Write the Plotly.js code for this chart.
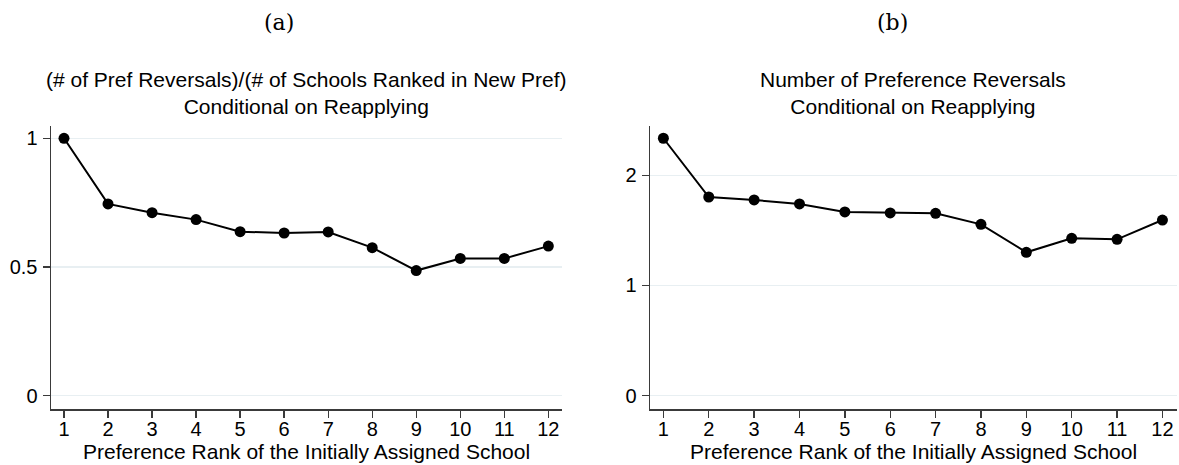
<!DOCTYPE html>
<html>
<head>
<meta charset="utf-8">
<script src="https://cdn.plot.ly/plotly-3.0.1.min.js"></script>
<style>html,body{margin:0;padding:0;background:#fff;}#chart{width:1179px;height:465px;}</style>
</head>
<body>
<div id="chart"></div>
<script>
// Data
const ranks = [1, 2, 3, 4, 5, 6, 7, 8, 9, 10, 11, 12];
const reversalShare = [1.0, 0.745, 0.711, 0.684, 0.637, 0.632, 0.636, 0.575, 0.486, 0.533, 0.533, 0.581];
const reversalCount = [2.336, 1.803, 1.776, 1.740, 1.667, 1.658, 1.655, 1.555, 1.301, 1.428, 1.419, 1.594];
const yTicksA = [0, 0.5, 1];
const yTickTextA = ["0", "0.5", "1"];
const yTicksB = [0, 1, 2];
const yTickTextB = ["0", "1", "2"];
const titleA = "(# of Pref Reversals)/(# of Schools Ranked in New Pref)<br>Conditional on Reapplying";
const titleB = "Number of Preference Reversals<br>Conditional on Reapplying";
const xTitle = "Preference Rank of the Initially Assigned School";
const panelLabels = ["(a)", "(b)"];

const W = 1179, H = 465;
const font = "Liberation Sans, Arial, Helvetica, sans-serif";
const lineStyle = {color: "#000", width: 2};
const markerStyle = {color: "#000", size: 11};

const traces = [
  {x: ranks, y: reversalShare, type: "scatter", mode: "lines+markers", line: lineStyle, marker: markerStyle, xaxis: "x", yaxis: "y", hoverinfo: "x+y"},
  {x: ranks, y: reversalCount, type: "scatter", mode: "lines+markers", line: lineStyle, marker: markerStyle, xaxis: "x2", yaxis: "y2", hoverinfo: "x+y"}
];

const axisCommon = {
  showline: true, linecolor: "#3a3a3a", linewidth: 1.5,
  ticks: "outside", ticklen: 7, tickwidth: 1.3, tickcolor: "#3a3a3a",
  tickfont: {family: font, size: 20, color: "#000"},
  zeroline: false, fixedrange: true
};
const xCommon = Object.assign({}, axisCommon, {
  range: [0.705, 12.31], tickmode: "array", tickvals: ranks, ticktext: ranks.map(String),
  showgrid: false, ticklabelstandoff: -6
});
const yDom = [(H - 409) / H, (H - 125.7) / H];

const layout = {
  width: W, height: H,
  margin: {l: 0, r: 0, t: 0, b: 0},
  paper_bgcolor: "#fff", plot_bgcolor: "#fff",
  showlegend: false,
  font: {family: font, size: 20, color: "#000"},
  xaxis: Object.assign({}, xCommon, {domain: [51 / W, 562 / W], anchor: "y"}),
  xaxis2: Object.assign({}, xCommon, {domain: [650 / W, 1176.5 / W], anchor: "y2"}),
  yaxis: Object.assign({}, axisCommon, {
    domain: yDom, anchor: "x", range: [-0.052, 1.049],
    tickmode: "array", tickvals: yTicksA, ticktext: yTickTextA,
    showgrid: true, gridcolor: "#e8eff2", gridwidth: 1.3, ticklabelstandoff: 1
  }),
  yaxis2: Object.assign({}, axisCommon, {
    domain: yDom, anchor: "x2", range: [-0.121, 2.45],
    tickmode: "array", tickvals: yTicksB, ticktext: yTickTextB,
    showgrid: true, gridcolor: "#e8eff2", gridwidth: 1.3, ticklabelstandoff: 1
  }),
  annotations: [
    {text: titleA, xref: "paper", yref: "paper", x: 306.5 / W, y: (H - 93.5) / H, xanchor: "center", yanchor: "middle", showarrow: false, font: {family: font, size: 21, color: "#000"}},
    {text: titleB, xref: "paper", yref: "paper", x: 913 / W, y: (H - 93.5) / H, xanchor: "center", yanchor: "middle", showarrow: false, font: {family: font, size: 21, color: "#000"}},
    {text: xTitle, xref: "paper", yref: "paper", x: 306.5 / W, y: (H - 451) / H, xanchor: "center", yanchor: "middle", showarrow: false, font: {family: font, size: 21, color: "#000"}},
    {text: xTitle, xref: "paper", yref: "paper", x: 913 / W, y: (H - 451) / H, xanchor: "center", yanchor: "middle", showarrow: false, font: {family: font, size: 21, color: "#000"}},
    {text: panelLabels[0], xref: "paper", yref: "paper", x: 279 / W, y: (H - 22) / H, xanchor: "center", yanchor: "middle", showarrow: false, font: {family: "DejaVu Serif, Liberation Serif, serif", size: 22, color: "#000"}},
    {text: panelLabels[1], xref: "paper", yref: "paper", x: 892 / W, y: (H - 22) / H, xanchor: "center", yanchor: "middle", showarrow: false, font: {family: "DejaVu Serif, Liberation Serif, serif", size: 22, color: "#000"}}
  ]
};

Plotly.newPlot("chart", traces, layout, {displayModeBar: false, staticPlot: true});
</script>
</body>
</html>
